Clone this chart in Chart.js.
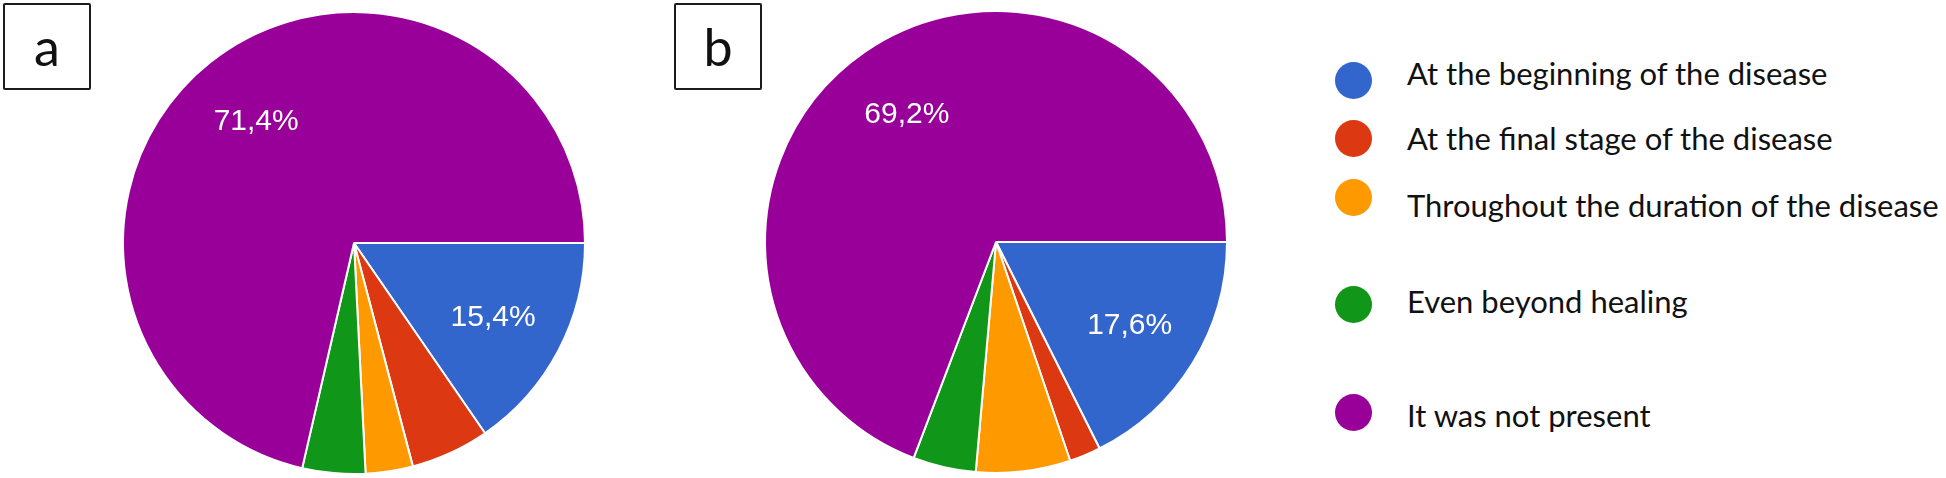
<!DOCTYPE html>
<html>
<head>
<meta charset="utf-8">
<script src="https://cdn.jsdelivr.net/npm/chart.js@4/dist/chart.umd.min.js"></script>
<style>
  html, body { margin: 0; padding: 0; background: #ffffff; }
  body { width: 1946px; height: 478px; position: relative; overflow: hidden; }
  .pie { position: absolute; width: 480px; height: 480px; }
  .panel-box { position: absolute; width: 88px; height: 87px; box-sizing: border-box;
    border: 2px solid #1c1c1c; border-radius: 2px; background: #fff;
    font-family: Lato, "Open Sans", sans-serif; font-size: 52px; color: #111;
    display: flex; align-items: center; justify-content: center; z-index: 3; }
  .lbl { position: absolute; color: #ffffff; font-family: "Liberation Sans", Arial, sans-serif;
    font-size: 30px; line-height: 30px; white-space: nowrap; transform: translate(-50%, -50%); z-index: 2; }
  .leg-dot { position: absolute; width: 37px; height: 37px; border-radius: 50%; }
  .leg-txt { position: absolute; font-family: Lato, "Open Sans", sans-serif; font-size: 31px;
    line-height: 31px; color: #111; white-space: nowrap; }
</style>
</head>
<body>
<div class="panel-box" style="left:3px;top:3px;"><span style="margin-top:-2px">a</span></div>
<div class="panel-box" style="left:674px;top:3px;"><span style="margin-top:-2px">b</span></div>
<div class="pie" id="pieA" style="left:114px;top:3px;"><canvas id="cA"></canvas></div>
<div class="pie" id="pieB" style="left:756px;top:2px;"><canvas id="cB"></canvas></div>
<div id="legend"></div>

<script>
// ---- data ----
const categories = [
  "At the beginning of the disease",
  "At the final stage of the disease",
  "Throughout the duration of the disease",
  "Even beyond healing",
  "It was not present"
];
const valuesA = [15.4, 5.5, 3.3, 4.4, 71.4];
const valuesB = [17.6, 2.2, 6.6, 4.4, 69.2];
const colors = ["#3366cc", "#dc3912", "#ff9900", "#109618", "#990099"];

// ---- layout (not data) ----
const PIE_RADIUS = 231;
const LABEL_MIN = 10;          // only slices above this show a label
const LABEL_FRACTION = 0.68;   // label distance from centre, fraction of radius
const legendDotX = 1335;
const legendDotY = [62, 120, 179, 286, 394];
const legendTextX = 1407;
const legendBaseline = [85, 150, 217, 313, 427];
const LEGEND_ASCENT = 27.5;

function fmt(v) { return v.toFixed(1).replace('.', ',') + '%'; }

function makePie(canvasId, containerId, values) {
  const chart = new Chart(document.getElementById(canvasId), {
    type: 'pie',
    data: {
      labels: categories,
      datasets: [{
        data: values,
        backgroundColor: colors,
        borderColor: '#ffffff',
        borderWidth: 2,
        hoverOffset: 0
      }]
    },
    options: {
      responsive: true,
      maintainAspectRatio: false,
      animation: false,
      rotation: 90,
      radius: PIE_RADIUS,
      layout: { padding: 0 },
      plugins: { legend: { display: false }, tooltip: { enabled: false } },
      events: []
    }
  });
  const container = document.getElementById(containerId);
  const meta = chart.getDatasetMeta(0);
  meta.data.forEach((arc, i) => {
    if (values[i] < LABEL_MIN) return;
    const p = arc.getProps(['x', 'y', 'startAngle', 'endAngle', 'outerRadius'], true);
    const mid = (p.startAngle + p.endAngle) / 2;
    const r = p.outerRadius * LABEL_FRACTION;
    const el = document.createElement('div');
    el.className = 'lbl';
    el.textContent = fmt(values[i]);
    el.style.left = (p.x + Math.cos(mid) * r) + 'px';
    el.style.top = (p.y + Math.sin(mid) * r) + 'px';
    container.appendChild(el);
  });
  return chart;
}

makePie('cA', 'pieA', valuesA);
makePie('cB', 'pieB', valuesB);

// ---- legend ----
const legend = document.getElementById('legend');
categories.forEach((c, i) => {
  const d = document.createElement('div');
  d.className = 'leg-dot';
  d.style.background = colors[i];
  d.style.left = legendDotX + 'px';
  d.style.top = legendDotY[i] + 'px';
  legend.appendChild(d);
  const t = document.createElement('div');
  t.className = 'leg-txt';
  t.textContent = c;
  t.style.left = legendTextX + 'px';
  t.style.top = (legendBaseline[i] - LEGEND_ASCENT) + 'px';
  legend.appendChild(t);
});
</script>
</body>
</html>
